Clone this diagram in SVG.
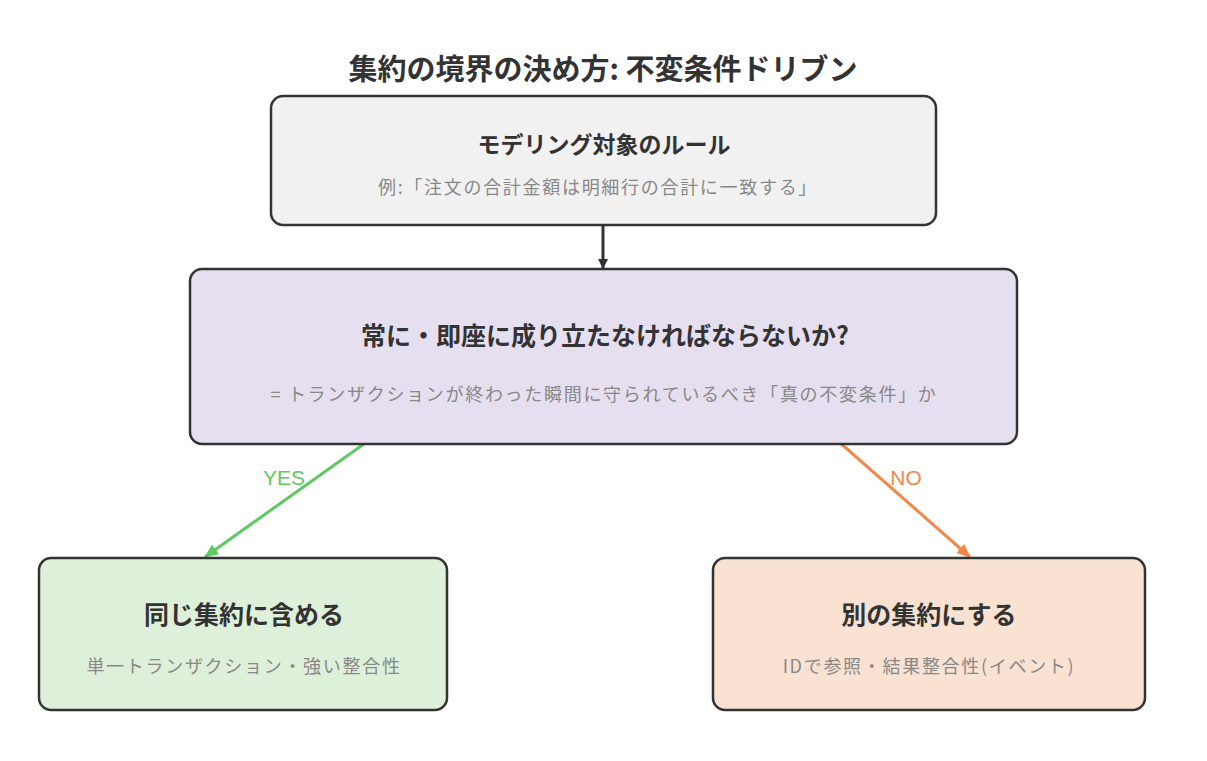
<svg xmlns="http://www.w3.org/2000/svg" width="1207" height="761" viewBox="0 0 1207 761">
<style>
.box{stroke:#333;stroke-width:2.5}
.t{font-family:"Noto Sans CJK JP","Noto Sans",sans-serif;font-weight:bold;fill:#333;text-anchor:middle}
.s{font-family:"Noto Sans CJK JP","Noto Sans",sans-serif;fill:#888;text-anchor:middle;font-size:18px;letter-spacing:1.7px}
.lbl{font-family:"Liberation Sans","Noto Sans",sans-serif;font-size:21px;text-anchor:middle}
</style>
<defs>
<marker id="ab" markerWidth="10" markerHeight="10" refX="9" refY="5" orient="auto" markerUnits="userSpaceOnUse"><path d="M0,0 L10,5 L0,10 z" fill="#333"/></marker>
<marker id="ag" markerWidth="14" markerHeight="12" refX="13" refY="6" orient="auto" markerUnits="userSpaceOnUse"><path d="M0,0 L14,6 L0,12 z" fill="#5fc95f"/></marker>
<marker id="ao" markerWidth="14" markerHeight="12" refX="13" refY="6" orient="auto" markerUnits="userSpaceOnUse"><path d="M0,0 L14,6 L0,12 z" fill="#f0884a"/></marker>
</defs>
<rect width="1207" height="761" fill="#fff"/>
<text x="603" y="80" class="t" font-size="29">集約の境界の決め方: 不変条件ドリブン</text>
<g id="connectors">
<line x1="603" y1="225" x2="603" y2="268" stroke="#333" stroke-width="3" marker-end="url(#ab)"/>
<line x1="368" y1="441" x2="205" y2="557" stroke="#5fc95f" stroke-width="3" marker-end="url(#ag)"/>
<line x1="838" y1="441" x2="970" y2="557" stroke="#f0884a" stroke-width="3" marker-end="url(#ao)"/>
<text x="284" y="485" class="lbl" fill="#5fc95f">YES</text>
<text x="906" y="485" class="lbl" fill="#f0884a">NO</text>
</g>
<g id="rule">
<rect x="271" y="96" width="665" height="129" rx="12" class="box" fill="#f1f1f1"/>
<text x="604" y="153" class="t" font-size="23">モデリング対象のルール</text>
<text x="598" y="194" class="s">例:「注文の合計金額は明細行の合計に一致する」</text>
</g>
<g id="question">
<rect x="190" y="269" width="827" height="175" rx="12" class="box" fill="#e6dff0"/>
<text x="605" y="345" class="t" font-size="25">常に・即座に成り立たなければならないか?</text>
<text x="604" y="401" class="s">= トランザクションが終わった瞬間に守られているべき「真の不変条件」か</text>
</g>
<g id="same">
<rect x="39" y="558" width="408" height="152" rx="12" class="box" fill="#dff0da"/>
<text x="244" y="624" class="t" font-size="25">同じ集約に含める</text>
<text x="244" y="673" class="s">単一トランザクション・強い整合性</text>
</g>
<g id="separate">
<rect x="713" y="558" width="432" height="152" rx="12" class="box" fill="#f9e2d2"/>
<text x="929" y="624" class="t" font-size="25">別の集約にする</text>
<text x="929" y="673" class="s">IDで参照・結果整合性(イベント)</text>
</g>
</svg>
